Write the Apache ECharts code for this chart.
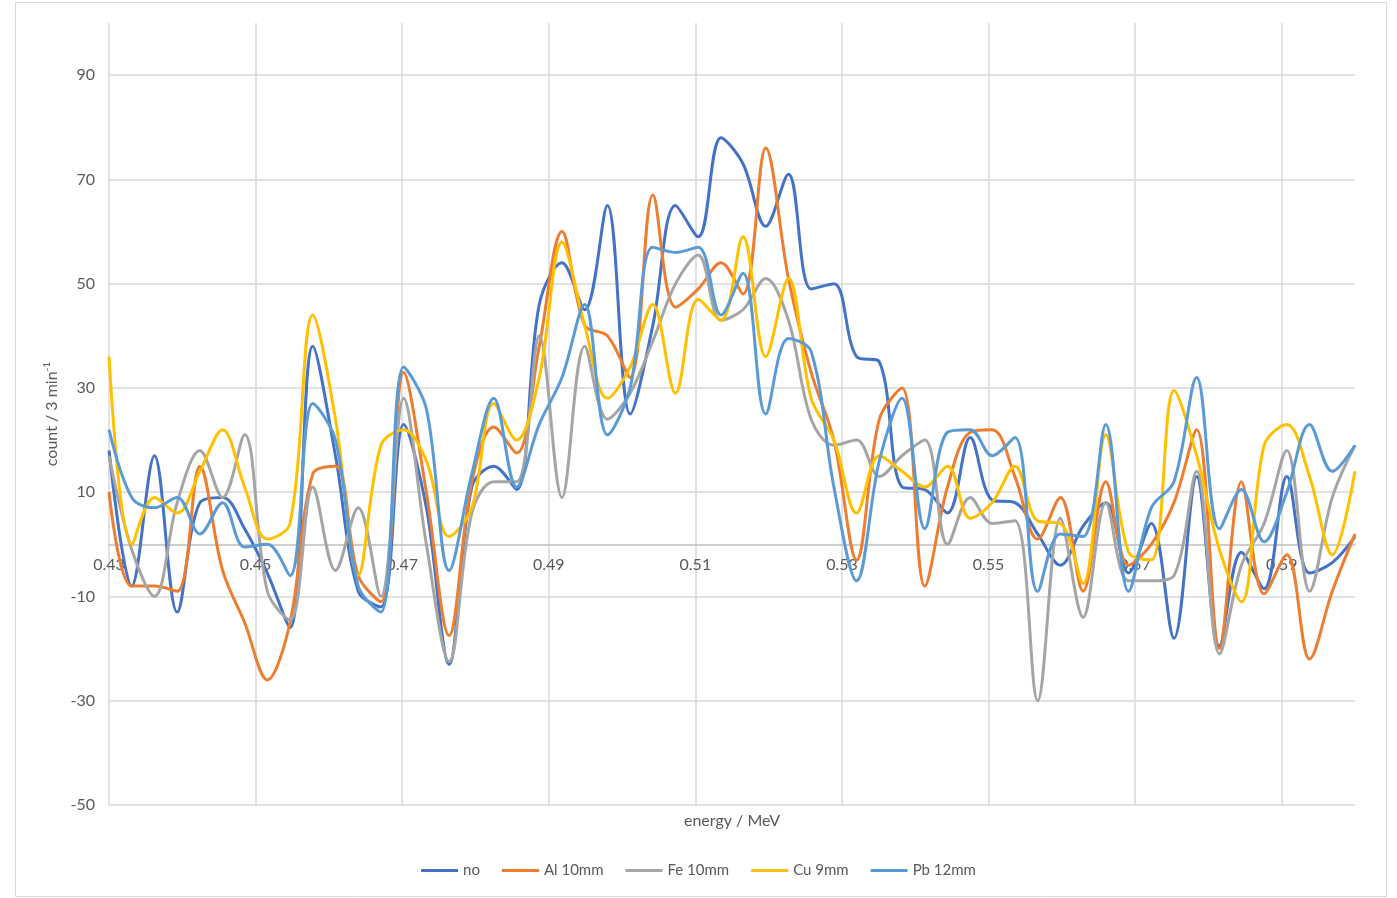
<!DOCTYPE html>
<html>
<head>
<meta charset="utf-8">
<script src="https://cdn.jsdelivr.net/npm/echarts@6/dist/echarts.min.js"></script>
<style>
  html, body { margin: 0; padding: 0; background: #ffffff; }
  #chart { width: 1397px; height: 898px; }
</style>
</head>
<body>
<div id="chart"></div>
<script>
// Energy of each spectrum channel (MeV)
const energy = [
  0.4300, 0.4331, 0.4362, 0.4393, 0.4424, 0.4455, 0.4485, 0.4516, 0.4547, 0.4578,
  0.4609, 0.4640, 0.4671, 0.4702, 0.4733, 0.4764, 0.4795, 0.4825, 0.4856, 0.4887,
  0.4918, 0.4949, 0.4980, 0.5011, 0.5042, 0.5073, 0.5104, 0.5135, 0.5165, 0.5196,
  0.5227, 0.5258, 0.5289, 0.5320, 0.5351, 0.5382, 0.5413, 0.5444, 0.5475, 0.5505,
  0.5536, 0.5567, 0.5598, 0.5629, 0.5660, 0.5691, 0.5722, 0.5753, 0.5784, 0.5815,
  0.5845, 0.5876, 0.5907, 0.5938, 0.5969, 0.6000
];

// Counts per 3 min for each absorber
const countNo = [
  18, -8, 17, -13, 8, 9, 3, -5.5, -16, 38,
  17, -9, -12, 23, 7, -23, 11, 15, 10.5, 46,
  54, 45, 65, 25, 42, 65, 59, 78, 73, 61,
  71, 49, 50, 36, 35, 11, 10.5, 6, 20.5, 8.5,
  8, 2, -4, 3.5, 8, -5.5, 4, -18, 13, -19.5,
  -1.5, -8.5, 13, -5.5, -3.5, 1.5
];
const countAl = [
  10, -8, -8, -9, 15, -5, -15, -26, -15, 13.5,
  15, -6, -11, 33, 10, -17.5, 12, 22.5, 17.5, 38,
  60, 42, 40, 32, 67, 45.5, 49, 54, 48, 76,
  51, 33, 20, -3, 24, 30, -8, 11, 21.5, 22,
  13, 1, 9, -9, 12, -4, 0, 8, 22, -20,
  12, -9.5, -2, -22, -9, 2
];
const countFe = [
  17, -1, -10, 8, 18, 9, 21, -9, -14.5, 11,
  -5, 7, -10, 28, 0, -22.5, 6, 12, 12, 40,
  9, 38, 24, 29, 39, 50, 55.5, 43, 45, 51,
  43, 24, 19, 20, 13, 17, 20, 0, 9, 4,
  4.5, -30, 5, -14, 8, -7, -7, -6, 14, -21,
  -4, 4, 18, -9, 9, 19
];
const countCu = [
  36, 0, 9, 6, 14, 22, 11, 1, 4, 44,
  24, -6, 19, 22, 16, 1.5, 7, 27, 20, 32,
  58, 42, 28, 34, 46, 29, 47, 43, 59, 36,
  51, 28, 20, 6, 17, 14, 11, 15, 5, 8,
  15, 4.5, 4, -7.5, 21, -1.5, -3, 29.5, 17, -1,
  -11, 19, 23, 13, -2, 14
];
const countPb = [
  22, 9, 7, 9, 2, 8, -0.5, 0, -6, 27,
  20, -8, -13, 34, 26, -5, 13.5, 28, 11, 23,
  32, 46, 21, 30, 57, 56, 57, 44, 52, 25,
  39.5, 37, 11, -7, 16, 28, 3, 21.5, 22, 17,
  20.5, -9, 2, 1.5, 23, -9, 7, 12, 32, 3,
  10.5, 0.5, 10, 23, 14, 19
];

const seriesNames = ['no', 'Al 10mm', 'Fe 10mm', 'Cu 9mm', 'Pb 12mm'];
const seriesCounts = [countNo, countAl, countFe, countCu, countPb];
const seriesColors = ['#4472C4', '#ED7D31', '#A5A5A5', '#FFC000', '#5B9BD5'];

const FONT = 'Lato, "Open Sans", "Noto Sans", sans-serif';
const TEXT = '#595959';
const GRID = '#D9D9D9';

// Plot area and value range of the count axis
const PLOT_TOP = 23, PLOT_BOTTOM = 93, CHART_H = 898;
const Y_MIN = -50, Y_MAX = 100;
const plotH = CHART_H - PLOT_TOP - PLOT_BOTTOM;
// The energy axis (line and labels) sits on count = 0
const zeroOffset = -plotH * (0 - Y_MIN) / (Y_MAX - Y_MIN);

const chart = echarts.init(document.getElementById('chart'), null, { renderer: 'canvas' });

const series = seriesNames.map((name, s) => ({
  name: name,
  type: 'line',
  data: energy.map((e, i) => [e, seriesCounts[s][i]]),
  smooth: 0.35,
  symbol: 'none',
  showSymbol: false,
  lineStyle: { color: seriesColors[s], width: 3 },
  itemStyle: { color: seriesColors[s] },
  emphasis: { disabled: true },
  clip: true
}));

chart.setOption({
  animation: false,
  backgroundColor: '#ffffff',
  textStyle: { fontFamily: FONT },
  grid: {
    left: 109, right: 42, top: PLOT_TOP, bottom: PLOT_BOTTOM,
    containLabel: false,
    outerBoundsMode: 'none'
  },
  xAxis: {
    type: 'value',
    min: 0.43,
    max: 0.60,
    interval: 0.01,
    position: 'bottom',
    offset: zeroOffset,
    axisLine: { show: true, onZero: false, lineStyle: { color: '#BFBFBF', width: 1.5 } },
    axisTick: { show: false },
    axisLabel: {
      color: TEXT,
      fontFamily: FONT,
      fontSize: 16,
      margin: 13,
      formatter: function (v) {
        const c = Math.round(v * 100);
        return (c % 2 === 1 && c < 60) ? v.toFixed(2) : '';
      }
    },
    splitLine: { show: true, lineStyle: { color: [GRID, 'rgba(0,0,0,0)'], width: 1.5 } }
  },
  yAxis: {
    type: 'value',
    min: Y_MIN,
    max: Y_MAX,
    interval: 10,
    axisLine: { show: false },
    axisTick: { show: false },
    axisLabel: {
      color: TEXT,
      fontFamily: FONT,
      fontSize: 16,
      margin: 14,
      formatter: function (v) {
        return ((v + 50) % 20 === 0 && v < 100) ? String(v) : '';
      }
    },
    splitLine: { show: true, lineStyle: { color: [GRID, 'rgba(0,0,0,0)'], width: 1.5 } }
  },
  legend: {
    data: seriesNames,
    top: 863,
    left: 'center',
    padding: 0,
    icon: 'rect',
    itemWidth: 37,
    itemHeight: 3,
    itemGap: 22,
    textStyle: { color: TEXT, fontFamily: FONT, fontSize: 15 }
  },
  graphic: [
    {
      type: 'rect',
      silent: true,
      shape: { x: 15.5, y: 2.5, width: 1371, height: 894 },
      style: { fill: 'none', stroke: GRID, lineWidth: 1 }
    },
    {
      type: 'text',
      silent: true,
      x: 732, y: 821,
      style: {
        text: 'energy / MeV',
        fill: TEXT,
        font: '16px ' + FONT,
        align: 'center',
        verticalAlign: 'middle'
      }
    },
    {
      type: 'text',
      silent: true,
      x: 52, y: 414,
      rotation: Math.PI / 2,
      style: {
        text: '{a|count / 3 min}{s|-1}',
        fill: TEXT,
        align: 'center',
        verticalAlign: 'middle',
        rich: {
          a: { fontFamily: FONT, fontSize: 16, lineHeight: 20, verticalAlign: 'middle', fill: TEXT },
          s: { fontFamily: FONT, fontSize: 10, lineHeight: 12, verticalAlign: 'top', fill: TEXT }
        }
      }
    }
  ],
  series: series
});
</script>
</body>
</html>
